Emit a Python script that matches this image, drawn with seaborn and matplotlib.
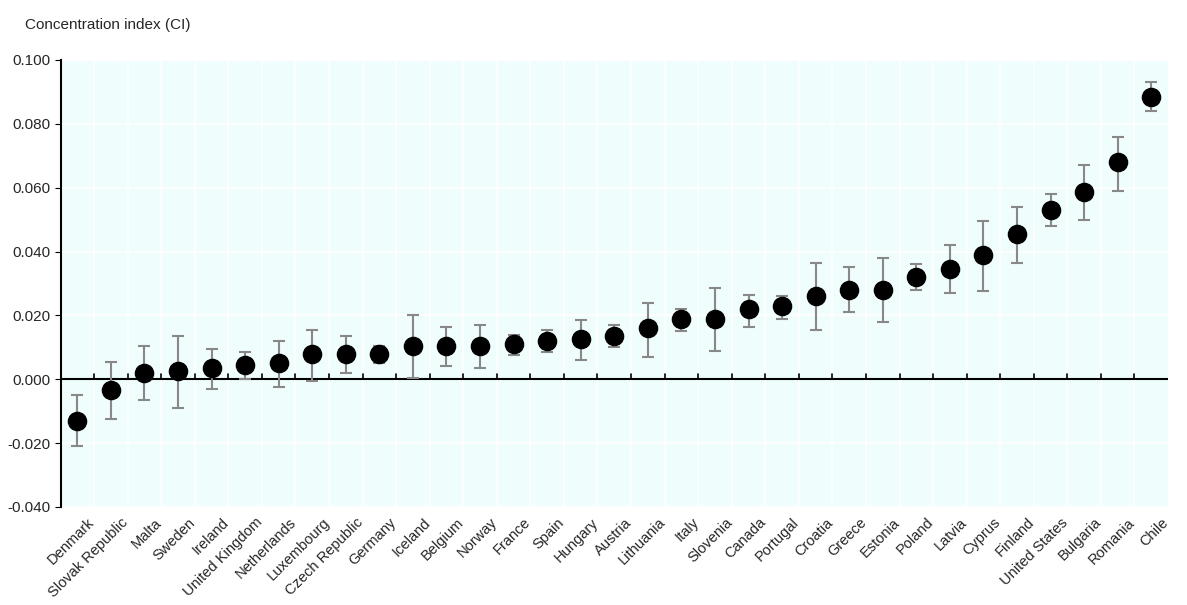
import matplotlib
matplotlib.use("Agg")
import matplotlib.pyplot as plt
import seaborn as sns
import pandas as pd
import numpy as np

countries = ["Denmark","Slovak Republic","Malta","Sweden","Ireland","United Kingdom","Netherlands",
 "Luxembourg","Czech Republic","Germany","Iceland","Belgium","Norway","France","Spain","Hungary",
 "Austria","Lithuania","Italy","Slovenia","Canada","Portugal","Croatia","Greece","Estonia","Poland",
 "Latvia","Cyprus","Finland","United States","Bulgaria","Romania","Chile"]
ci = [-0.013,-0.0035,0.002,0.0025,0.0035,0.0045,0.005,0.008,0.008,0.008,0.0105,0.0105,0.0105,0.011,
 0.012,0.0125,0.0135,0.016,0.019,0.019,0.022,0.023,0.026,0.028,0.028,0.032,0.0345,0.039,0.0455,
 0.053,0.0585,0.068,0.0885]
low = [-0.021,-0.0125,-0.0065,-0.009,-0.003,0.0,-0.0025,-0.0005,0.002,0.005,0.0005,0.004,0.0035,0.0075,
 0.0085,0.006,0.010,0.007,0.015,0.009,0.0165,0.019,0.0155,0.021,0.018,0.028,0.027,0.0275,0.0365,
 0.048,0.050,0.059,0.084]
high = [-0.005,0.0055,0.0105,0.0135,0.0095,0.0085,0.012,0.0155,0.0135,0.0105,0.020,0.0165,0.017,0.014,
 0.0155,0.0185,0.017,0.024,0.022,0.0285,0.0265,0.026,0.0365,0.035,0.038,0.036,0.042,0.0495,0.054,
 0.058,0.067,0.076,0.093]

df = pd.DataFrame({"country": countries, "ci": ci, "low": low, "high": high})

sns.set_style("white")
plt.rcParams['font.family'] = ['Liberation Sans', 'DejaVu Sans']
fig, ax = plt.subplots(figsize=(11.87, 6.05), dpi=100)
fig.subplots_adjust(left=0.051, right=0.984, top=0.901, bottom=0.162)
ax.set_facecolor("#f0fdfd")

x = np.arange(len(df))
ax.errorbar(x, df["ci"], yerr=[df["ci"] - df["low"], df["high"] - df["ci"]], fmt="none",
            ecolor="#888888", elinewidth=1.5, capsize=4, capthick=1.5, zorder=2)
sns.scatterplot(x=x, y=df["ci"], ax=ax, color="black", s=170, edgecolor="black", zorder=3, legend=False)

ax.set_xlim(-0.5, len(df) - 0.5)
ax.set_ylim(-0.04, 0.1)
yt = np.arange(-0.04, 0.1001, 0.02)
ax.set_yticks(yt)
ax.set_yticklabels([f"{v:.3f}" for v in yt], fontsize=11)
ax.set_xticks(x + 0.3)
ax.set_xticklabels(df["country"], rotation=45, ha="right", rotation_mode="anchor", fontsize=10.5)
ax.tick_params(axis="x", length=0, pad=6)
ax.tick_params(axis="y", length=4, direction="out", color="black", left=True)
ax.grid(axis="y", color="white", lw=1.2)
for b in np.arange(0.5, len(df) - 0.5):
    ax.axvline(b, color="white", lw=1.2, zorder=0)
    ax.plot([b, b], [0, 0.0015], color="black", lw=1.2, zorder=1)
ax.axhline(0, color="black", lw=1.5, zorder=1)
for s in ["top", "right", "bottom"]:
    ax.spines[s].set_visible(False)
ax.spines["left"].set_linewidth(1.5)
ax.spines["left"].set_color("black")
ax.set_xlabel("")
ax.set_ylabel("")
fig.text(0.021, 0.952, "Concentration index (CI)", fontsize=11)
fig.savefig("out.png", dpi=100)
